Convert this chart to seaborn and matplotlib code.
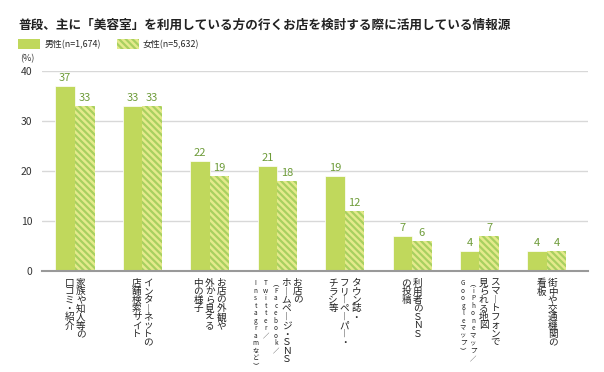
import numpy as np
import pandas as pd
import seaborn as sns
import matplotlib.pyplot as plt
from matplotlib.transforms import ScaledTranslation
from matplotlib.patches import Patch

TITLE = "普段、主に「美容室」を利用している方の行くお店を検討する際に活用している情報源"
SERIES = ["男性(n=1,674)", "女性(n=5,632)"]
CATEGORIES = ["口コミ", "検索サイト", "外観", "HP・SNS", "タウン誌", "利用者SNS", "地図", "看板"]
MALE = [37, 33, 22, 21, 19, 7, 4, 4]
FEMALE = [33, 33, 19, 18, 12, 6, 7, 4]
YTICKS = [0, 10, 20, 30, 40]

# vertical label columns, first column is the rightmost; (text, small)
LABEL_COLUMNS = [
    [("家族や知人等の", False), ("口コミ・紹介", False)],
    [("インターネットの", False), ("店舗検索サイト", False)],
    [("お店の外観や", False), ("外から見える", False), ("中の様子", False)],
    [("お店の", False), ("ホームページ・ＳＮＳ", False), ("（Facebook/", True),
     ("Twitter/", True), ("Instagramなど）", True)],
    [("タウン誌・", False), ("フリーペーパー・", False), ("チラシ等", False)],
    [("利用者のＳＮＳ", False), ("の投稿", False)],
    [("スマートフォンで", False), ("見られる地図", False), ("（iPhoneマップ/", True),
     ("Googleマップ）", True)],
    [("街中や交通機関の", False), ("看板", False)],
]

MALE_COLOR = "#c0d85c"
FEMALE_FACE = "#e4ea8c"
HATCH_COLOR = "#a8d060"
LABEL_COLOR = "#6e9c3a"
FONT = ["Noto Sans CJK JP", "DejaVu Sans"]

VERT = {"ー": "︱", "（": "︵", "）": "︶", "(": "︵", ")": "︶", "/": "／"}


def vertical(s):
    return "\n".join(VERT.get(c, c) for c in s)


sns.set_theme(style="white")
plt.rcParams["font.family"] = FONT
plt.rcParams["hatch.linewidth"] = 1.6

df = pd.DataFrame({
    "category": CATEGORIES * 2,
    "series": [SERIES[0]] * len(CATEGORIES) + [SERIES[1]] * len(CATEGORIES),
    "value": MALE + FEMALE,
})

fig = plt.figure(figsize=(6.04, 3.72), dpi=100)
ax = fig.add_axes([42 / 604, 101 / 372, 546 / 604, 200 / 372])

sns.barplot(data=df, x="category", y="value", hue="series", order=CATEGORIES,
            hue_order=SERIES, palette=[MALE_COLOR, FEMALE_FACE], width=0.58,
            legend=False, ax=ax, saturation=1)

male_bars, female_bars = ax.containers
for b in male_bars:
    b.set_edgecolor("white")
    b.set_linewidth(0.5)
for b in female_bars:
    b.set_hatch("\\\\\\\\\\")
    b.set_edgecolor(HATCH_COLOR)
    b.set_linewidth(0)

for cont in ax.containers:
    ax.bar_label(cont, padding=2, color=LABEL_COLOR, fontsize=8, fontfamily=FONT)

ax.set_ylim(0, 40)
ax.set_xlim(-0.49, 7.61)
ax.set_yticks(YTICKS)
ax.set_yticklabels([str(t) for t in YTICKS], fontsize=7.5, color="#333333")
ax.tick_params(axis="y", length=0, pad=7)
ax.set_xticks([])
ax.set_xlabel("")
ax.set_ylabel("")
ax.yaxis.grid(True, color="#d8d8d8", linewidth=1)
ax.set_axisbelow(True)
for s in ["top", "right", "left"]:
    ax.spines[s].set_visible(False)
ax.spines["bottom"].set_color("#999999")
ax.spines["bottom"].set_linewidth(1.5)

# vertical category labels, column widths in pixels
trans_base = ax.get_xaxis_transform()
for i, cols in enumerate(LABEL_COLUMNS):
    widths = [10 if small else 11.5 for _, small in cols]
    x_off = sum(widths) / 2
    for (text, small), w in zip(cols, widths):
        cx = x_off - w / 2
        x_off -= w
        tr = trans_base + ScaledTranslation(cx / 100, 0, fig.dpi_scale_trans)
        ax.text(i, -0.04, vertical(text), transform=tr, ha="center", va="top",
                fontsize=4.6 if small else 6.9, linespacing=0.92,
                color="#222222", fontfamily=FONT)

fig.text(18 / 604, 1 - 25 / 372, TITLE, fontsize=9.1, fontweight="bold",
         va="center", ha="left", color="#222222")
fig.text(20 / 604, 1 - 59 / 372, "(%)", fontsize=6.5, va="center", ha="left",
         color="#333333")

handles = [Patch(facecolor=MALE_COLOR, edgecolor=MALE_COLOR, linewidth=0),
           Patch(facecolor=FEMALE_FACE, edgecolor=HATCH_COLOR, hatch="\\\\\\\\\\", linewidth=0)]
fig.legend(handles, SERIES, loc="center left", bbox_to_anchor=(18 / 604, 1 - 44 / 372),
           ncol=2, frameon=False, fontsize=6.4, handlelength=2.5, handleheight=1.3,
           handletextpad=0.45, columnspacing=1.8, borderpad=0, borderaxespad=0)

fig.savefig("out.png", dpi=100)
